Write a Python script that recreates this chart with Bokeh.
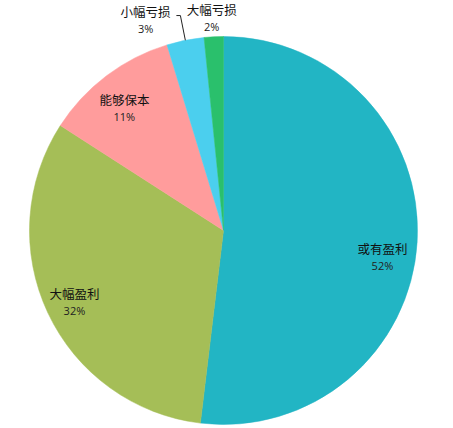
import numpy as np
from bokeh.plotting import figure
from bokeh.models import ColumnDataSource, Range1d
from bokeh.core.properties import value
from bokeh.embed import file_html
from bokeh.resources import INLINE

# ---- data (clockwise from 12 o'clock) ----
categories = ["或有盈利", "大幅盈利", "能够保本", "小幅亏损", "大幅亏损"]
shares = [51.9, 32.2, 11.2, 3.1, 1.6]
colors = ["#22B5C4", "#A5BE57", "#FF9C9C", "#4BCFEE", "#2AC06C"]

# ---- layout ----
W, H = 453, 428
CX, CY, R = 223, 198, 194
label_r = [0.831, 0.852, 0.814, 1.155, 1.097]       # radial factor of label centre
label_shift = [6.2, -0.4, -1.8, -9.0, -0.3]          # degrees, clockwise
leader = [False, False, False, True, False]

p = figure(width=W, height=H, output_backend="svg", toolbar_location=None,
           x_range=Range1d(0, W), y_range=Range1d(0, H), min_border=0)
p.axis.visible = False
p.grid.visible = False
p.outline_line_color = None
p.background_fill_color = None
p.border_fill_color = None

total = float(sum(shares))
fr = np.array(shares) / total
cum_after = np.cumsum(fr) * 2 * np.pi
cum_before = cum_after - fr * 2 * np.pi
# clockwise from top -> bokeh anticlock angles
start = np.pi / 2 - cum_after
end = np.pi / 2 - cum_before

src = ColumnDataSource(dict(start=start, end=end, color=colors))
p.wedge(x=CX, y=CY, radius=R, start_angle="start", end_angle="end",
        fill_color="color", line_color="color", line_width=0.5, source=src)

mid_cw = (cum_before + cum_after) / 2  # radians clockwise from top
names_x, names_y, pct_x, pct_y, pct_txt = [], [], [], [], []
for i, cat in enumerate(categories):
    a = mid_cw[i] + np.radians(label_shift[i])
    lx = CX + label_r[i] * R * np.sin(a)
    ly = CY + label_r[i] * R * np.cos(a)
    names_x.append(lx); names_y.append(ly + 8.5)
    pct_x.append(lx); pct_y.append(ly - 8.5)
    pct_txt.append(f"{round(fr[i]*100)}%")
    if leader[i]:
        m = mid_cw[i]
        x0, y0 = CX + R * np.sin(m), CY + R * np.cos(m)
        x1, y1 = CX + 1.13 * R * np.sin(m), CY + 1.13 * R * np.cos(m)
        p.line([x0, x1, x1 - 4], [y0, y1, y1], line_color="#222222", line_width=1)

p.text(x=names_x, y=names_y, text=categories, text_align="center", text_baseline="middle",
       text_font=value("Noto Sans CJK SC"), text_font_size="12.5px", text_color="#111111")
p.text(x=pct_x, y=pct_y, text=pct_txt, text_align="center", text_baseline="middle",
       text_font=value("Open Sans"), text_font_size="11px", text_color="#222222")

open("out.html", "w").write(file_html(p, INLINE))
